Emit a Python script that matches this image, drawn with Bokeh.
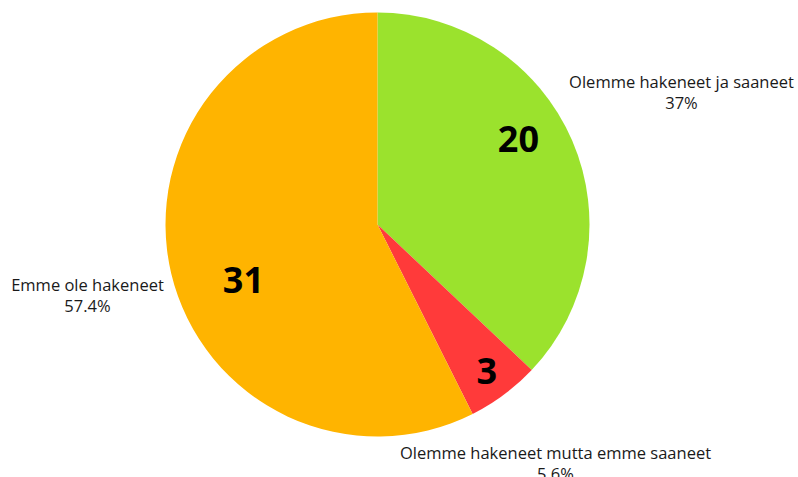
import math
from bokeh.plotting import figure
from bokeh.models import Range1d, ColumnDataSource
from bokeh.core.properties import value
from bokeh.embed import file_html
from bokeh.resources import INLINE

# data
categories = ["Olemme hakeneet ja saaneet", "Olemme hakeneet mutta emme saaneet", "Emme ole hakeneet"]
counts = [20, 3, 31]
percent_labels = ["37%", "5.6%", "57.4%"]
colors = ["#9be22d", "#ff3a3a", "#ffb400"]

W, H = 798, 477
p = figure(width=W, height=H, output_backend="svg", toolbar_location=None,
           x_range=Range1d(0, 798), y_range=Range1d(0, 477),
           min_border=0, outline_line_color=None)
p.axis.visible = False
p.grid.visible = False
p.background_fill_color = "white"
p.border_fill_color = "white"

def Y(py):
    return 477 - py  # convert pixel-from-top into data y

cx, cy, r = 377, Y(224), 212
total = sum(counts)
starts, ends, mids = [], [], []
a = math.pi / 2
for c in counts:
    s = a
    e = a - 2 * math.pi * c / total
    starts.append(s); ends.append(e); mids.append((s + e) / 2)
    a = e

src = ColumnDataSource(dict(start=starts, end=ends, color=colors))
p.wedge(x=cx, y=cy, radius=r, start_angle="start", end_angle="end",
        direction="clock", fill_color="color", line_color=None, source=src)

# inner number labels (layout: radius and angular offset in degrees)
inner_r = [165, 183, 145]
inner_off = [8, 0, 9]
nx = [cx + rr * math.cos(m + math.radians(o)) for rr, m, o in zip(inner_r, mids, inner_off)]
ny = [cy + rr * math.sin(m + math.radians(o)) for rr, m, o in zip(inner_r, mids, inner_off)]
p.text(x=nx, y=ny, text=[str(c) for c in counts], text_font=value("Open Sans"),
       text_font_size="36px", text_font_style="bold", text_color="black",
       text_align="center", text_baseline="middle")

# outer labels (layout)
lab_x = [681, 555, 87]
lab_y = [81, 452, 284]
p.text(x=lab_x, y=[Y(v) for v in lab_y], text=categories, text_font=value("Open Sans"),
       text_font_size="16.5px", text_color="#1a1a1a", text_align="center", text_baseline="middle")
p.text(x=lab_x, y=[Y(v + 21) for v in lab_y], text=percent_labels, text_font=value("Open Sans"),
       text_font_size="16.5px", text_color="#1a1a1a", text_align="center", text_baseline="middle")

open("out.html", "w").write(file_html(p, INLINE))
